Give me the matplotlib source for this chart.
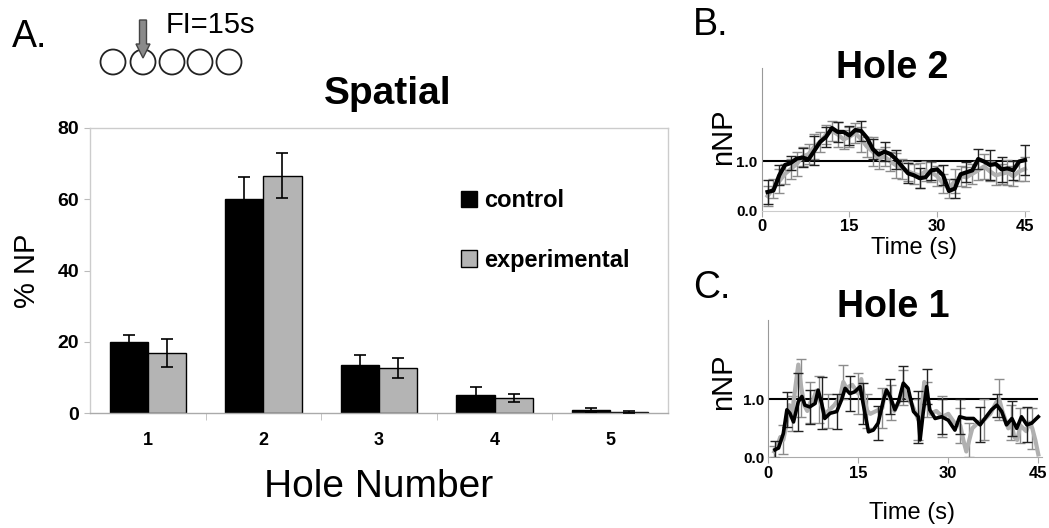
import matplotlib
matplotlib.use('Agg')
import matplotlib.pyplot as plt
from matplotlib.patches import Circle

plt.rcParams['font.family'] = ['Liberation Sans', 'DejaVu Sans']

# Panel A: % nose pokes per hole
holes = ['1', '2', '3', '4', '5']
control = [20.0, 60.0, 13.5, 5.0, 0.8]
control_err = [2.0, 6.2, 2.7, 2.3, 0.5]
experimental = [16.8, 66.6, 12.5, 4.2, 0.3]
experimental_err = [4.0, 6.3, 2.8, 1.0, 0.2]

# Panel B: Hole 2 normalised nose pokes over time
time_b = list(range(1, 46))
hole2_black = [0.38, 0.41, 0.72, 0.93, 0.97, 1.06, 1.08, 1.04, 1.22, 1.40,
               1.50, 1.68, 1.60, 1.60, 1.53, 1.64, 1.62, 1.48, 1.25, 1.14,
               1.20, 1.15, 1.04, 0.90, 0.76, 0.72, 0.66, 0.68, 0.82, 0.84,
               0.72, 0.40, 0.45, 0.74, 0.78, 0.82, 1.05, 1.00, 0.93, 0.95,
               0.84, 0.86, 0.82, 1.00, 1.03]
hole2_black_err = [0.25, 0.3, 0.2, 0.2, 0.15, 0.15, 0.2, 0.25, 0.3, 0.2,
                   0.2, 0.2, 0.2, 0.25, 0.2, 0.25, 0.2, 0.2, 0.2, 0.2,
                   0.2, 0.25, 0.2, 0.3, 0.2, 0.25, 0.2, 0.2, 0.2, 0.25,
                   0.2, 0.15, 0.2, 0.2, 0.2, 0.25, 0.2, 0.25, 0.3, 0.2,
                   0.25, 0.2, 0.2, 0.3, 0.3]
hole2_gray = [0.30, 0.45, 0.60, 0.75, 0.85, 0.95, 1.10, 1.15, 1.30, 1.40,
              1.55, 1.62, 1.55, 1.45, 1.50, 1.58, 1.45, 1.30, 1.20, 1.05,
              1.10, 1.00, 0.92, 0.85, 0.80, 0.75, 0.72, 0.80, 0.78, 0.70,
              0.55, 0.45, 0.60, 0.70, 0.68, 0.75, 0.82, 0.90, 0.80, 0.72,
              0.75, 0.78, 0.70, 0.80, 0.85]
hole2_gray_err = [0.2, 0.2, 0.25, 0.2, 0.2, 0.25, 0.2, 0.2, 0.25, 0.2,
                  0.2, 0.2, 0.25, 0.2, 0.2, 0.2, 0.25, 0.2, 0.3, 0.2,
                  0.2, 0.2, 0.25, 0.2, 0.2, 0.2, 0.25, 0.2, 0.2, 0.2,
                  0.2, 0.2, 0.25, 0.2, 0.2, 0.2, 0.2, 0.25, 0.2, 0.2,
                  0.2, 0.25, 0.2, 0.2, 0.25]

# Panel C: Hole 1 normalised nose pokes over time
time_c_black = [1.1, 1.7, 2.5, 3.1, 3.6, 4.2, 5.0, 5.6, 6.1, 6.9,
                7.8, 8.3, 8.9, 9.4, 10.3, 11.4, 12.2, 12.8, 13.6, 14.4,
                15.3, 15.8, 16.7, 17.5, 18.3, 19.2, 19.7, 20.3, 21.1, 21.7,
                22.5, 23.3, 24.2, 25.0, 25.3, 25.8, 26.4, 26.9, 27.8, 28.9,
                30.0, 31.1, 31.9, 33.0, 34.2, 35.3, 36.1, 37.2, 38.1, 38.9,
                39.7, 40.6, 41.4, 42.2, 43.1, 43.9, 45.0]
hole1_black = [0.13, 0.16, 0.41, 0.82, 0.76, 0.61, 0.96, 1.05, 0.90, 0.87,
               0.93, 1.16, 0.93, 0.67, 0.76, 0.79, 0.99, 1.19, 1.10, 1.13,
               1.22, 0.93, 0.44, 0.47, 0.59, 0.99, 1.16, 1.05, 0.82, 0.96,
               1.28, 1.19, 0.79, 0.70, 0.30, 0.76, 1.22, 0.82, 0.67, 0.70,
               0.64, 0.47, 0.70, 0.67, 0.67, 0.56, 0.67, 0.82, 0.90, 0.79,
               0.56, 0.67, 0.50, 0.70, 0.56, 0.59, 0.70]
hole1_black_err = [0.15, 0.2, 0.3, 0.3, 0.35, 0.3, 0.5, 0.4, 0.35, 0.3,
                   0.35, 0.3, 0.45, 0.35, 0.3, 0.3, 0.35, 0.3, 0.3, 0.35,
                   0.3, 0.35, 0.2, 0.3, 0.3, 0.35, 0.3, 0.3, 0.35, 0.3,
                   0.3, 0.35, 0.3, 0.45, 0.3, 0.35, 0.3, 0.3, 0.35, 0.3,
                   0.3, 0.3, 0.3, 0.25, 0.3, 0.3, 0.3, 0.25, 0.2, 0.3,
                   0.3, 0.3, 0.25, 0.3, 0.3, 0.3, 0.2]
time_c_gray = [1, 1.5, 2, 2.5, 3, 3.5, 4, 4.5, 5, 5.5,
               6, 6.5, 7, 7.5, 8, 8.5, 9, 9.5, 10, 11,
               12, 12.5, 13, 14, 15, 15.5, 16, 16.5, 17, 18,
               19, 19.5, 20, 20.5, 21, 22, 22.5, 23, 24, 25,
               25.5, 26, 26.5, 27, 28, 29, 30, 31, 32, 32.5,
               33, 33.5, 34, 35, 36, 37, 38, 38.5, 39, 40,
               40.5, 41, 41.5, 42, 43, 43.5, 44, 44.5, 45]
hole1_gray = [0.10, 0.2, 0.35, 0.3, 0.55, 0.9, 0.75, 1.2, 1.6, 1.2,
              0.9, 0.8, 0.95, 1.0, 1.15, 1.0, 0.85, 0.75, 0.8, 0.9,
              1.05, 1.3, 1.2, 1.25, 1.1, 1.35, 1.0, 0.8, 0.75, 0.8,
              0.85, 1.15, 1.1, 0.95, 0.8, 1.0, 1.2, 1.05, 0.9, 0.65,
              0.8, 1.3, 1.0, 0.75, 0.8, 0.7, 0.75, 0.6, 0.55, 0.3,
              0.1, 0.3, 0.5, 0.6, 0.65, 0.75, 0.95, 1.0, 0.8, 0.5,
              0.6, 0.35, 0.3, 0.55, 0.45, 0.6, 0.5, 0.3, 0.05]
hole1_gray_err = [0.1, 0.15, 0.2, 0.25, 0.3, 0.35, 0.3, 0.4, 0.9, 0.5,
                  0.4, 0.35, 0.35, 0.3, 0.35, 0.4, 0.3, 0.35, 0.3, 0.35,
                  0.35, 0.3, 0.35, 0.3, 0.35, 0.3, 0.35, 0.3, 0.35, 0.3,
                  0.35, 0.3, 0.35, 0.3, 0.35, 0.3, 0.3, 0.35, 0.3, 0.35,
                  0.3, 0.35, 0.3, 0.35, 0.3, 0.35, 0.3, 0.35, 0.3, 0.3,
                  0.3, 0.3, 0.35, 0.3, 0.35, 0.3, 0.3, 0.35, 0.3, 0.35,
                  0.3, 0.35, 0.3, 0.3, 0.35, 0.3, 0.35, 0.3, 0.2]

W, H = 1049, 528
fig = plt.figure(figsize=(W / 100, H / 100), dpi=100)


def px_axes(left, top, right, bottom):
    return fig.add_axes([left / W, 1 - bottom / H, (right - left) / W, (bottom - top) / H])


# ---- Panel A: bar chart ----
ax = px_axes(90, 128, 668, 413)
x = list(range(1, len(holes) + 1))
bw = 0.33
ax.bar([i - bw / 2 for i in x], control, bw, color='black', edgecolor='black',
       linewidth=1, label='control', zorder=2)
ax.bar([i + bw / 2 for i in x], experimental, bw, color='#b4b4b4', edgecolor='black',
       linewidth=1, label='experimental', zorder=2)
ax.errorbar([i - bw / 2 for i in x], control, yerr=control_err, fmt='none',
            ecolor='black', elinewidth=1.2, capsize=4, capthick=1.2, zorder=3)
ax.errorbar([i + bw / 2 for i in x], experimental, yerr=experimental_err, fmt='none',
            ecolor='black', elinewidth=1.2, capsize=4, capthick=1.2, zorder=3)
ax.set_xlim(0.5, 5.5)
ax.set_ylim(0, 80)
ax.set_yticks([0, 20, 40, 60, 80])
ax.set_xticks(x)
ax.set_xticklabels(holes, fontweight='bold', fontsize=13)
ax.set_xticks([1.5, 2.5, 3.5, 4.5], minor=True)
ax.tick_params(axis='x', which='major', length=0, pad=14)
ax.tick_params(axis='x', which='minor', length=5, color='#bbbbbb', direction='out')
ax.tick_params(axis='y', length=4, color='#bbbbbb', labelsize=14, pad=4)
for lab in ax.get_yticklabels():
    lab.set_fontweight('bold')
for s in ax.spines.values():
    s.set_color('#cccccc')
    s.set_linewidth(1)
ax.spines['bottom'].set_color('#aaaaaa')
ax.set_ylabel('% NP', fontsize=21, labelpad=12)
ax.set_xlabel('Hole Number', fontsize=28, labelpad=14)
leg = ax.legend(loc='upper left', bbox_to_anchor=(0.605, 0.86), frameon=False,
                prop={'weight': 'bold', 'size': 17}, handlelength=0.7, handleheight=0.7,
                handletextpad=0.3, labelspacing=1.55)


def time_panel(a, ymax):
    a.axhline(1.0, xmin=0, xmax=44.8 / 45.6, color='black', linewidth=1.5, zorder=1)
    a.set_xlim(0, 45.6)
    a.set_ylim(0, ymax)
    a.set_xticks([0, 15, 30, 45])
    a.set_yticks([0, 1])
    a.set_yticklabels(['0.0', '1.0'])
    a.tick_params(axis='x', length=4, color='#aaaaaa', labelsize=12, pad=2)
    a.tick_params(axis='y', length=0, labelsize=11, pad=3)
    for lab in a.get_xticklabels() + a.get_yticklabels():
        lab.set_fontweight('bold')
    a.spines['top'].set_visible(False)
    a.spines['right'].set_visible(False)
    a.spines['left'].set_color('#999999')
    a.spines['bottom'].set_color('#cccccc')


# ---- Panel B ----
axb = px_axes(761.7, 68, 1028.5, 210.7)
axb.errorbar(time_b, hole2_gray, yerr=hole2_gray_err, color='#b0b0b0', linewidth=3,
             ecolor='#8c8c8c', elinewidth=1, capsize=3.5, zorder=2)
axb.errorbar(time_b, hole2_black, yerr=hole2_black_err, color='black', linewidth=3,
             ecolor='#222222', elinewidth=1, capsize=3.5, errorevery=2, zorder=3)
time_panel(axb, 2.9)

# ---- Panel C ----
axc = px_axes(768.3, 320, 1041.9, 457.3)
axc.errorbar(time_c_gray, hole1_gray, yerr=hole1_gray_err, color='#b0b0b0', linewidth=3,
             ecolor='#8c8c8c', elinewidth=1, capsize=3.5, errorevery=3, zorder=2)
axc.errorbar(time_c_black, hole1_black, yerr=hole1_black_err, color='black', linewidth=2.6,
             ecolor='#222222', elinewidth=1, capsize=3.5, errorevery=3, zorder=3)
time_panel(axc, 2.37)
axc.spines['bottom'].set_color('#aaaaaa')

# ---- diagram, titles, panel letters (pixel coordinates) ----
over = fig.add_axes([0, 0, 1, 1], zorder=5)
over.set_xlim(0, W)
over.set_ylim(H, 0)
over.axis('off')
for cx in [113, 143, 172, 200, 229]:
    over.add_patch(Circle((cx, 62), 12.5, fill=False, edgecolor='#222222', linewidth=1.3))
over.arrow(143, 20, 0, 38, width=7, head_width=14, head_length=14,
           length_includes_head=True, fc='#8a8a8a', ec='#444444', linewidth=1)
over.text(166, 25, 'FI=15s', fontsize=21, va='center', ha='left')
over.text(12, 37, 'A.', fontsize=27, va='center', ha='left')
over.text(693, 25, 'B.', fontsize=27, va='center', ha='left')
over.text(693, 288, 'C.', fontsize=27, va='center', ha='left')
over.text(388, 104, 'Spatial', fontsize=28, fontweight='bold', ha='center', va='baseline')
over.text(892, 78, 'Hole 2', fontsize=27, fontweight='bold', ha='center', va='baseline')
over.text(893, 317, 'Hole 1', fontsize=27, fontweight='bold', ha='center', va='baseline')
over.text(914, 248, 'Time (s)', fontsize=17, ha='center', va='center')
over.text(912, 513, 'Time (s)', fontsize=17, ha='center', va='center')
over.text(723, 137, 'nNP', fontsize=21, ha='center', va='center', rotation=90)
over.text(723, 382, 'nNP', fontsize=21, ha='center', va='center', rotation=90)

fig.savefig('out.png', dpi=100)
